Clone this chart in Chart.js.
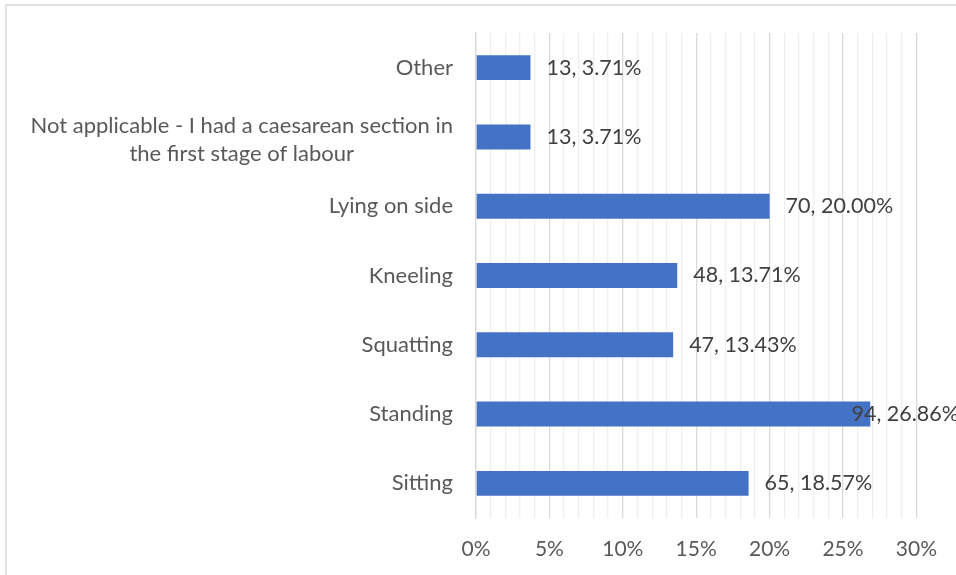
<!DOCTYPE html>
<html>
<head>
<meta charset="utf-8">
<script src="https://cdn.jsdelivr.net/npm/chart.js@4.4.1/dist/chart.umd.min.js"></script>
<style>
  html, body { margin: 0; padding: 0; background: #ffffff; }
  #wrap { width: 956px; height: 575px; position: relative; }
</style>
</head>
<body>
<div id="wrap"><canvas id="chart" width="956" height="575"></canvas></div>
<script>
// Labour positions used in the first stage of labour (n = 350)
const categories = [
  'Other',
  ['Not applicable - I had a caesarean section in', 'the first stage of labour'],
  'Lying on side',
  'Kneeling',
  'Squatting',
  'Standing',
  'Sitting'
];
const counts   = [13, 13, 70, 48, 47, 94, 65];
const percents = [3.71, 3.71, 20.00, 13.71, 13.43, 26.86, 18.57];
const xTicks   = [0, 5, 10, 15, 20, 25, 30];

const FONT = 'Lato, "Open Sans", sans-serif';
const CAT_SIZE = 22;
const VALUE_SIZE = 21.5;
const TICK_SIZE = 21;

// Outer chart frame
const framePlugin = {
  id: 'frame',
  beforeDraw(chart) {
    const c = chart.ctx;
    c.save();
    c.strokeStyle = '#d9d9d9';
    c.lineWidth = 1.5;
    c.beginPath();
    c.moveTo(6, chart.height + 2);
    c.lineTo(6, 5);
    c.lineTo(chart.width + 2, 5);
    c.stroke();
    c.restore();
  }
};

// Category labels: right edge next to the axis, wrapped lines centred on each other
const categoryLabelPlugin = {
  id: 'categoryLabels',
  afterDraw(chart) {
    const c = chart.ctx;
    const y = chart.scales.y;
    const right = y.right - 23;
    c.save();
    c.font = `${CAT_SIZE}px ${FONT}`;
    c.fillStyle = '#595959';
    c.textBaseline = 'middle';
    c.textAlign = 'center';
    const lh = 28;
    categories.forEach((cat, i) => {
      const lines = Array.isArray(cat) ? cat : [cat];
      const widest = Math.max(...lines.map(l => c.measureText(l).width));
      const cx = right - widest / 2;
      const cy = y.getPixelForValue(i) + (lines.length > 1 ? 3 : 0);
      const top = cy - (lines.length - 1) * lh / 2;
      lines.forEach((l, k) => c.fillText(l, cx, top + k * lh));
    });
    c.restore();
  }
};

// Value labels "count, percent" at the end of each bar
const valueLabelPlugin = {
  id: 'valueLabels',
  afterDatasetsDraw(chart) {
    const c = chart.ctx;
    const meta = chart.getDatasetMeta(0);
    c.save();
    c.font = `${VALUE_SIZE}px ${FONT}`;
    c.fillStyle = '#404040';
    c.textBaseline = 'middle';
    c.textAlign = 'left';
    meta.data.forEach((bar, i) => {
      const txt = `${counts[i]}, ${percents[i].toFixed(2)}%`;
      const w = c.measureText(txt).width;
      const x = Math.min(bar.x + 16, chart.width - w + 3);
      c.fillText(txt, x, bar.y);
    });
    c.restore();
  }
};

new Chart(document.getElementById('chart'), {
  type: 'bar',
  data: {
    labels: categories,
    datasets: [{
      data: percents,
      backgroundColor: '#4472C4',
      borderWidth: 0,
      categoryPercentage: 1,
      barPercentage: 0.36
    }]
  },
  options: {
    indexAxis: 'y',
    responsive: false,
    animation: false,
    events: [],
    layout: { padding: { top: 33, right: 38, bottom: 0, left: 0 } },
    plugins: { legend: { display: false }, tooltip: { enabled: false } },
    scales: {
      x: {
        min: 0,
        max: 30,
        afterBuildTicks(scale) {
          const t = [];
          for (let v = 0; v <= 30; v++) t.push({ value: v });
          scale.ticks = t;
        },
        afterFit(scale) { scale.height = 57; },
        ticks: {
          autoSkip: false,
          maxRotation: 0,
          padding: 19,
          color: '#595959',
          font: { family: FONT, size: TICK_SIZE },
          callback: v => (xTicks.includes(v) ? v + '%' : '')
        },
        grid: {
          drawTicks: false,
          lineWidth: 1.3,
          color: ctx => (ctx.tick && ctx.tick.value % 5 === 0 ? '#d9d9d9' : '#efefef')
        },
        border: { display: false }
      },
      y: {
        afterFit(scale) { scale.width = 476; },
        ticks: { display: false },
        grid: { display: false, drawTicks: false },
        border: { display: true, color: '#d9d9d9', width: 1.3 }
      }
    }
  },
  plugins: [framePlugin, categoryLabelPlugin, valueLabelPlugin]
});
</script>
</body>
</html>
